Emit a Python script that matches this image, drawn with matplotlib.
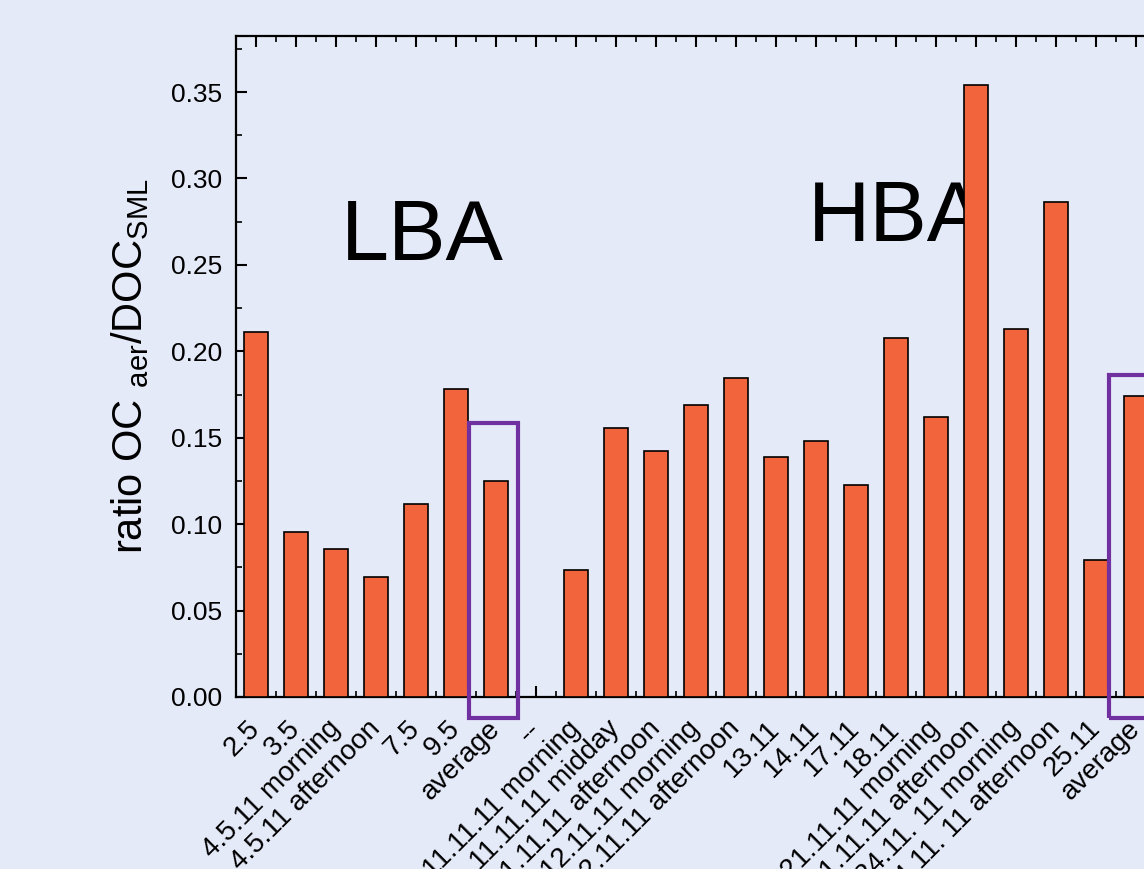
import numpy as np
import matplotlib
matplotlib.use("Agg")
import matplotlib.pyplot as plt
from matplotlib.patches import Rectangle
from matplotlib.ticker import MultipleLocator

# sample labels and ratio values
labels = [
    "2.5", "3.5", "4.5.11 morning", "4.5.11 afternoon", "7.5", "9.5", "average",
    "--",
    "11.11.11 morning", "11.11.11 midday", "11.11.11 afternoon",
    "12.11.11 morning", "12.11.11 afternoon", "13.11", "14.11", "17.11", "18.11",
    "21.11.11 morning", "21.11.11 afternoon", "24.11. 11 morning",
    "24.11. 11 afternoon", "25.11", "average",
]
ratios = [
    0.211, 0.0955, 0.0856, 0.0694, 0.1117, 0.1782, 0.125,
    0.0,
    0.0735, 0.1556, 0.1423, 0.1689, 0.1845, 0.1388, 0.1481, 0.1226, 0.2077,
    0.162, 0.354, 0.2129, 0.2864, 0.0793, 0.1741,
]
# highlighted averages: (index, box top)
highlight_idx = [6, 22]
highlight_top = [0.1585, 0.1863]

bg = "#E5EAF9"
bar_color = "#F2643C"
purple = "#7030A0"

plt.rcParams["font.family"] = ["Liberation Sans", "DejaVu Sans"]
plt.rcParams["mathtext.fontset"] = "custom"
plt.rcParams["mathtext.rm"] = "Liberation Sans"

fig = plt.figure(figsize=(11.44, 8.69), dpi=100, facecolor=bg)
ax = fig.add_axes([236 / 1144, 172 / 869, 920 / 1144, 661 / 869])
ax.set_facecolor(bg)

x = np.arange(len(labels))
ax.bar(x, ratios, width=0.58, color=bar_color, edgecolor="black",
       linewidth=1.2, zorder=3)

ax.set_xlim(-0.5, len(labels) - 0.5)
ax.set_ylim(0, 0.3824)

ax.set_xticks(x)
ax.set_xticklabels(labels, rotation=45, ha="right", va="center",
                   rotation_mode="anchor", fontsize=20)
ax.xaxis.set_minor_locator(MultipleLocator(1, offset=0.5))
ax.yaxis.set_major_locator(MultipleLocator(0.05))
ax.yaxis.set_minor_locator(MultipleLocator(0.025))
ax.yaxis.set_major_formatter(matplotlib.ticker.FormatStrFormatter("%.2f"))
ax.tick_params(axis="y", labelsize=19, pad=10)

ax.tick_params(which="major", direction="in", length=8, width=1.5,
               top=True, right=True)
ax.tick_params(which="minor", direction="in", length=4, width=1.2,
               top=True, right=True)
ax.tick_params(axis="x", which="major", pad=20)
for s in ax.spines.values():
    s.set_linewidth(1.6)

ax.set_ylabel(r"ratio OC $_\mathregular{aer}$/DOC$_\mathregular{SML}$",
              fontsize=30, labelpad=14)

ax.text(0.203, 0.694, "LBA", transform=ax.transAxes, fontsize=62,
        ha="center", va="center", zorder=1)
ax.text(0.718, 0.723, "HBA", transform=ax.transAxes, fontsize=62,
        ha="center", va="center", zorder=1)

for i, top in zip(highlight_idx, highlight_top):
    rect = Rectangle((i - 0.675, -0.0121), 1.225, top + 0.0121,
                     fill=False, edgecolor=purple, linewidth=3,
                     clip_on=False, zorder=4)
    ax.add_patch(rect)

fig.savefig("out.png", dpi=100, facecolor=bg)
